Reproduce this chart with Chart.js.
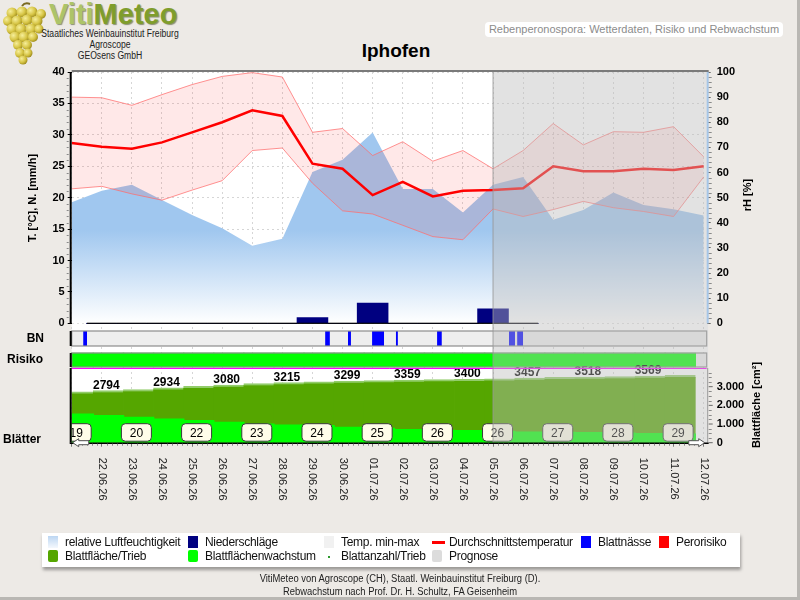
<!DOCTYPE html>
<html lang="de">
<head>
<meta charset="UTF-8">
<title>VitiMeteo - Iphofen</title>
<script src="https://cdn.jsdelivr.net/npm/chart.js"></script>
<style>
  html, body { margin: 0; padding: 0; }
  body { width: 800px; height: 600px; background: #edeae6; position: relative; overflow: hidden;
         font-family: "Liberation Sans", Arial, sans-serif; }
  #page-border { position: absolute; left: 0; top: 0; width: 797px; height: 597px;
                 border-right: 3px solid #b9b7b3; border-bottom: 3px solid #b9b7b3; }
  #chart { position: absolute; left: 0; top: 0; }
  .narrow { white-space: nowrap; transform: scaleX(0.86); transform-origin: center top; }
  .narrow.foot { transform: scaleX(0.94); }
  #logo { position: absolute; left: 49px; top: 0px; font: bold 29px "Liberation Sans", Arial, sans-serif;
          text-shadow: 1px 1px 1px rgba(60, 70, 20, 0.55); line-height: 29px; }
  #logo .viti { color: #adc468; }
  #logo .meteo { color: #7f9d2c; }
  #grapes { position: absolute; left: 0; top: 2px; }
  .inst { position: absolute; font-size: 10px; line-height: 11px; color: #222; text-align: center; width: 200px; left: 10px; }
  #subtitle { position: absolute; left: 485px; top: 22px; width: 298px; height: 15px; background: #fff;
              border-radius: 4px; color: #8c8c8c; font-size: 11px; line-height: 15px; text-align: center;
              white-space: nowrap; overflow: hidden; }
  #title { position: absolute; left: 296px; width: 200px; top: 40px; text-align: center;
           font: bold 19px "Liberation Sans", Arial, sans-serif; color: #000; }
  #legend { position: absolute; left: 42px; top: 533px; width: 698px; height: 34px; background: #fff;
            box-shadow: 1px 3px 3px rgba(0, 0, 0, 0.35); }
  .item { position: absolute; font-size: 12px; color: #111; white-space: nowrap; height: 14px; line-height: 14px;
          letter-spacing: -0.3px; }
  .sw { position: absolute; left: 0; top: 1px; width: 10px; height: 12px; }
  .item span.t { position: absolute; left: 17px; top: 0; }
  #footer { position: absolute; left: 0; width: 800px; top: 572px; text-align: center; font-size: 10px;
            line-height: 13px; color: #222; }
</style>
</head>
<body>
<div id="page-border"></div>

<svg id="grapes" width="48" height="64" viewBox="0 0 48 64">
  <defs>
    <radialGradient id="berry" cx="35%" cy="35%" r="70%">
      <stop offset="0" stop-color="#f6ee9a"/>
      <stop offset="0.6" stop-color="#d6c444"/>
      <stop offset="1" stop-color="#9c8a1c"/>
    </radialGradient>
  </defs>
  <path d="M22 4 Q 25 0 30 2" stroke="#7a6a20" stroke-width="2" fill="none"/>
  <g fill="url(#berry)">
    <circle cx="12" cy="11" r="5.5"/><circle cx="22" cy="10" r="5.5"/><circle cx="32" cy="10" r="5.5"/><circle cx="41" cy="12" r="5"/>
    <circle cx="8" cy="19" r="5"/><circle cx="17" cy="19" r="5.5"/><circle cx="27" cy="18" r="5.5"/><circle cx="37" cy="19" r="5.5"/>
    <circle cx="12" cy="27" r="5.5"/><circle cx="21" cy="27" r="5.5"/><circle cx="31" cy="27" r="5.5"/><circle cx="39" cy="27" r="4.5"/>
    <circle cx="15" cy="35" r="5.5"/><circle cx="24" cy="35" r="5.5"/><circle cx="33" cy="35" r="5"/>
    <circle cx="18" cy="43" r="5"/><circle cx="27" cy="43" r="5"/>
    <circle cx="20" cy="51" r="5"/><circle cx="28" cy="51" r="4.5"/>
    <circle cx="23" cy="58" r="4.5"/>
  </g>
</svg>
<div id="logo"><span class="viti">Viti</span><span class="meteo">Meteo</span></div>
<div class="inst narrow" style="top:28px;">Staatliches Weinbauinstitut Freiburg</div>
<div class="inst narrow" style="top:39px;">Agroscope</div>
<div class="inst narrow" style="top:50px;">GEOsens GmbH</div>
<div id="subtitle">Rebenperonospora: Wetterdaten, Risiko und Rebwachstum</div>
<div id="title">Iphofen</div>

<canvas id="chart" width="800" height="600"></canvas>

<div id="legend"></div>
<div id="footer"><div class="narrow foot">VitiMeteo von Agroscope (CH), Staatl. Weinbauinstitut Freiburg (D).</div><div class="narrow foot">Rebwachstum nach Prof. Dr. H. Schultz, FA Geisenheim</div></div>

<script>
// ---- data (one value per day, index 0 = 21.06.26) ----
const DAYS = ['21.06.26', '22.06.26', '23.06.26', '24.06.26', '25.06.26', '26.06.26', '27.06.26', '28.06.26',
              '29.06.26', '30.06.26', '01.07.26', '02.07.26', '03.07.26', '04.07.26', '05.07.26', '06.07.26',
              '07.07.26', '08.07.26', '09.07.26', '10.07.26', '11.07.26', '12.07.26'];
const FORECAST_FROM = 14;   // 05.07.26 onwards is forecast

const T_MEAN = [28.7, 28.1, 27.8, 28.8, 30.4, 32.0, 33.9, 33.0, 25.4, 24.6, 20.4,
                22.5, 20.2, 21.1, 21.2, 21.5, 25.0, 24.2, 24.2, 24.6, 24.4, 25.0];
const T_MAX = [36.0, 35.9, 34.7, 36.4, 38.0, 39.3, 39.9, 39.2, 30.4, 31.0, 26.7,
               28.9, 25.8, 27.5, 24.6, 27.5, 31.8, 28.4, 30.5, 30.4, 31.3, 26.5];
const T_MIN = [21.4, 21.8, 20.6, 19.6, 21.2, 22.7, 27.5, 27.9, 22.3, 17.9, 17.4,
               15.6, 13.8, 13.3, 18.2, 17.0, 18.1, 19.4, 18.4, 17.8, 17.0, 23.3];
const RH = [48.2, 52.7, 55.1, 49.1, 43.1, 37.8, 30.9, 33.6, 60.2, 65.1, 75.9,
            53.4, 53.4, 44.1, 55.1, 58.2, 41.2, 45.1, 52.0, 47.1, 45.4, 42.9];
const PRECIP = [null, 0, 0, 0, 0, 0, 0, 0, 0.9, 0, 3.2, 0, 0, 0, 2.3, 0,
                null, null, null, null, null, null];

// leaf wetness periods (start / end, in days)
const BN_START = [0.38, 8.42, 9.18, 9.98, 10.77, 12.14, 14.53, 14.80];
const BN_END   = [0.51, 8.58, 9.28, 10.38, 10.84, 12.30, 14.73, 15.00];

// downy mildew risk class per day (0 = low)
const RISK_LEVEL = [0, 0, 0, 0, 0, 0, 0, 0, 0, 0, 0, 0, 0, 0, 0, 0, 0, 0, 0, 0, 0];
const RISK_COLORS = ['#00ff00', '#ffff00', '#ff0000'];

// leaf area per shoot [cm2], daily leaf area growth, leaf count per shoot
const LEAF_AREA = [2724, 2794, 2847, 2934, 3017, 3080, 3168, 3215, 3257, 3299, 3325,
                   3359, 3378, 3400, 3417, 3457, 3500, 3518, 3547, 3569, 3605];
const LEAF_GROWTH = [116, 110, 103, 96, 90, 83, 76, 72, 70, 63, 59,
                     54, 51, 50, 47, 44, 43, 42, 40, 38, 36];
const LEAF_COUNT = [19, null, 20, null, 22, null, 23, null, 24, null, 25,
                    null, 26, null, 26, null, 27, null, 28, null, 29];

const T_TICKS = [0, 5, 10, 15, 20, 25, 30, 35, 40];
const RH_TICKS = [0, 10, 20, 30, 40, 50, 60, 70, 80, 90, 100];
const LEAF_TICKS = [0, 1000, 2000, 3000];

// ---- layout ----
const SANS = '"Liberation Sans", Arial, sans-serif';
const AREA = { left: 71.7, right: 706.7, top: 72, bottom: 442.7 };
const PANEL = { main: [72, 323.3], bn: [331, 346], risk: [353, 367], leaf: [368, 442.7] };
const X_MAX = 21.1;
const DAY_PX = (AREA.right - AREA.left) / X_MAX;
const BAR_SHIFT = 0.22;   // model day bars sit slightly right of the date tick
const LABEL_SHIFT = 0.15;

// value range of a hidden axis so that lo..hi fills the given panel
function fitRange(lo, hi, panel) {
  const k = (hi - lo) / (panel[1] - panel[0]);
  return { min: lo - (AREA.bottom - panel[1]) * k, max: hi + (panel[0] - AREA.top) * k };
}

Chart.defaults.font.family = SANS;

const xy = (arr, shift) => arr.map((v, i) => ({ x: i + (shift || 0), y: v })).filter(p => p.y !== null);

const bnPoints = [];
BN_START.forEach((s, k) => {
  bnPoints.push({ x: s, y: 1 }, { x: BN_END[k], y: 1 }, { x: BN_END[k], y: null });
});

function rhGradient(c) {
  const chart = c.chart;
  if (!chart.chartArea) return 'rgba(160,200,240,0.8)';
  const s = chart.scales.yRH;
  const g = chart.ctx.createLinearGradient(0, s.getPixelForValue(37), 0, s.getPixelForValue(0));
  g.addColorStop(0, 'rgba(160,199,239,1)');
  g.addColorStop(1, 'rgba(255,255,255,1)');
  return g;
}

function drawArrow(ctx, x0, y, len, dir) {
  const h = 4, head = 6;
  const tip = dir < 0 ? x0 : x0 + len;
  const tail = dir < 0 ? x0 + len : x0;
  const base = tip - dir * head;
  ctx.beginPath();
  ctx.moveTo(tip, y);
  ctx.lineTo(base, y - h);
  ctx.lineTo(base, y - h / 2);
  ctx.lineTo(tail, y - h / 2);
  ctx.lineTo(tail, y + h / 2);
  ctx.lineTo(base, y + h / 2);
  ctx.lineTo(base, y + h);
  ctx.closePath();
  ctx.fillStyle = '#fff';
  ctx.fill();
  ctx.strokeStyle = '#555';
  ctx.lineWidth = 1;
  ctx.stroke();
}

const decor = {
  id: 'decor',
  beforeDraw(chart) {
    const ctx = chart.ctx, a = chart.chartArea;
    ctx.save();
    ctx.fillStyle = '#fff';
    ctx.fillRect(a.left, a.top, a.right - a.left + 1.5, a.bottom - a.top);
    ctx.restore();
  },
  beforeDatasetsDraw(chart) {
    const ctx = chart.ctx, a = chart.chartArea;
    ctx.save();
    ctx.fillStyle = '#eeeeee';
    ctx.fillRect(a.left, PANEL.bn[0], a.right - a.left, PANEL.bn[1] - PANEL.bn[0]);
    ctx.fillRect(a.left, PANEL.risk[0], a.right - a.left, PANEL.risk[1] - PANEL.risk[0]);
    ctx.restore();
  },
  afterDraw(chart) {
    const ctx = chart.ctx, a = chart.chartArea;
    const x = chart.scales.x, yT = chart.scales.yT, yRH = chart.scales.yRH, yLeaf = chart.scales.yLeaf;
    ctx.save();

    // precipitation base line over the days that have a value
    ctx.strokeStyle = '#000';
    ctx.lineWidth = 1.2;
    PRECIP.forEach((v, i) => {
      if (v === null) return;
      ctx.beginPath();
      ctx.moveTo(x.getPixelForValue(i - 0.5), yT.getPixelForValue(0));
      ctx.lineTo(x.getPixelForValue(i + 0.5), yT.getPixelForValue(0));
      ctx.stroke();
    });

    // leaf area values every second day
    ctx.fillStyle = '#000';
    ctx.font = 'bold 12px ' + SANS;
    ctx.textAlign = 'center';
    ctx.textBaseline = 'alphabetic';
    LEAF_AREA.forEach((v, i) => {
      if (i % 2 === 1) ctx.fillText(String(v), x.getPixelForValue(i + LABEL_SHIFT), yLeaf.getPixelForValue(v) - 2);
    });

    // leaf count boxes
    ctx.save();
    ctx.beginPath();
    ctx.rect(a.left, a.top, a.right - a.left, a.bottom - a.top);
    ctx.clip();
    ctx.font = '12px ' + SANS;
    ctx.textBaseline = 'middle';
    LEAF_COUNT.forEach((n, i) => {
      if (n === null) return;
      const cx = x.getPixelForValue(i + LABEL_SHIFT);
      const top = PANEL.leaf[1] - 19;
      ctx.beginPath();
      ctx.roundRect(cx - 15, top, 30, 17.5, 4);
      ctx.fillStyle = '#fffde9';
      ctx.fill();
      ctx.strokeStyle = '#3a3a3a';
      ctx.lineWidth = 1;
      ctx.stroke();
      ctx.fillStyle = '#000';
      ctx.fillText(String(n), cx, top + 9.5);
    });
    ctx.restore();

    // panel frames
    ctx.strokeStyle = '#8c8c8c';
    ctx.lineWidth = 1.2;
    ctx.strokeRect(a.left, PANEL.bn[0], a.right - a.left, PANEL.bn[1] - PANEL.bn[0]);
    ctx.strokeRect(a.left, PANEL.risk[0], a.right - a.left, PANEL.risk[1] - PANEL.risk[0]);

    // magenta line on top of the leaf panel
    ctx.strokeStyle = '#ff00ff';
    ctx.lineWidth = 1;
    ctx.beginPath();
    ctx.moveTo(a.left, PANEL.leaf[0] + 0.5);
    ctx.lineTo(a.right, PANEL.leaf[0] + 0.5);
    ctx.stroke();

    // forecast shading
    const fx = x.getPixelForValue(FORECAST_FROM);
    ctx.fillStyle = 'rgba(187,187,187,0.43)';
    ctx.fillRect(fx, a.top, a.right + 1.5 - fx, a.bottom - a.top);
    ctx.strokeStyle = 'rgba(150,150,150,0.7)';
    ctx.lineWidth = 1.2;
    ctx.beginPath();
    ctx.moveTo(fx, a.top);
    ctx.lineTo(fx, a.bottom);
    ctx.stroke();

    // top frame line
    ctx.strokeStyle = '#7a7a7a';
    ctx.lineWidth = 2;
    ctx.beginPath();
    ctx.moveTo(a.left, a.top - 1);
    ctx.lineTo(a.right + 2, a.top - 1);
    ctx.stroke();

    // left axis line per panel
    ctx.strokeStyle = '#000';
    ctx.lineWidth = 2;
    [PANEL.main, PANEL.bn, PANEL.risk, PANEL.leaf].forEach(p => {
      ctx.beginPath();
      ctx.moveTo(a.left - 1, p[0]);
      ctx.lineTo(a.left - 1, p[1]);
      ctx.stroke();
    });

    // right axis lines
    ctx.strokeStyle = '#a6c6e8';
    ctx.beginPath();
    ctx.moveTo(a.right + 1, PANEL.main[0]);
    ctx.lineTo(a.right + 1, PANEL.main[1]);
    ctx.stroke();
    ctx.strokeStyle = '#9a9a9a';
    ctx.lineWidth = 1;
    ctx.beginPath();
    ctx.moveTo(a.right + 1, PANEL.leaf[0]);
    ctx.lineTo(a.right + 1, PANEL.leaf[1]);
    ctx.stroke();

    // bottom axis line
    ctx.strokeStyle = '#000';
    ctx.lineWidth = 1.5;
    ctx.beginPath();
    ctx.moveTo(a.left - 2, a.bottom + 0.5);
    ctx.lineTo(a.right + 2, a.bottom + 0.5);
    ctx.stroke();

    // minor ticks
    ctx.strokeStyle = '#8a8a8a';
    ctx.lineWidth = 1;
    for (let t = 0; t <= 40; t++) {
      if (t % 5 === 0) continue;
      const y = Math.round(yT.getPixelForValue(t)) + 0.5;
      ctx.beginPath(); ctx.moveTo(a.left - 5, y); ctx.lineTo(a.left - 3, y); ctx.stroke();
    }
    for (let r = 0; r <= 100; r += 2) {
      if (r % 10 === 0) continue;
      const y = Math.round(yRH.getPixelForValue(r)) + 0.5;
      ctx.beginPath(); ctx.moveTo(a.right + 2, y); ctx.lineTo(a.right + 5, y); ctx.stroke();
    }
    for (let v = 250; v <= 3750; v += 250) {
      if (v % 1000 === 0) continue;
      const y = Math.round(yLeaf.getPixelForValue(v)) + 0.5;
      ctx.beginPath(); ctx.moveTo(a.right + 2, y); ctx.lineTo(a.right + 5, y); ctx.stroke();
    }
    for (let d = 0; d <= 21 * 6; d++) {
      if (d % 6 === 0) continue;
      const px = Math.round(x.getPixelForValue(d / 6)) + 0.5;
      ctx.beginPath(); ctx.moveTo(px, a.bottom + 1); ctx.lineTo(px, a.bottom + 3); ctx.stroke();
    }

    // leaf area axis
    ctx.strokeStyle = '#666';
    ctx.fillStyle = '#000';
    ctx.font = 'bold 11px ' + SANS;
    ctx.textAlign = 'left';
    ctx.textBaseline = 'middle';
    LEAF_TICKS.forEach(v => {
      const y = yLeaf.getPixelForValue(v);
      ctx.beginPath(); ctx.moveTo(a.right + 2, y); ctx.lineTo(a.right + 6, y); ctx.stroke();
      ctx.fillText(v.toLocaleString('de-DE'), a.right + 10, y);
    });

    // date labels (read top to bottom)
    ctx.font = '11px ' + SANS;
    ctx.fillStyle = '#222';
    DAYS.forEach((d, i) => {
      if (i === 0) return;
      ctx.save();
      ctx.translate(x.getPixelForValue(i), a.bottom + 15);
      ctx.rotate(Math.PI / 2);
      ctx.fillText(d, 0, 0);
      ctx.restore();
    });

    // axis titles
    ctx.font = 'bold 11px ' + SANS;
    ctx.textAlign = 'center';
    ctx.fillStyle = '#000';
    const vText = (txt, cx, cy) => {
      ctx.save(); ctx.translate(cx, cy); ctx.rotate(-Math.PI / 2); ctx.fillText(txt, 0, 0); ctx.restore();
    };
    vText('T. [°C], N. [mm/h]', 33, 198);
    vText('rH [%]', 748, 195);
    vText('Blattfläche [cm²]', 757, 405);

    // panel labels
    ctx.font = 'bold 12px ' + SANS;
    ctx.textAlign = 'right';
    ctx.fillText('BN', 44, (PANEL.bn[0] + PANEL.bn[1]) / 2);
    ctx.fillText('Risiko', 43, (PANEL.risk[0] + PANEL.risk[1]) / 2);
    ctx.textAlign = 'left';
    ctx.fillText('Blätter', 3, 440);

    // scroll arrows
    drawArrow(ctx, a.left + 1, a.bottom, 16, -1);
    drawArrow(ctx, a.right - 18, a.bottom, 16, 1);

    ctx.restore();
  }
};

const barCommon = { type: 'bar', grouped: false, barThickness: DAY_PX + 0.8, borderWidth: 0 };

new Chart(document.getElementById('chart'), {
  type: 'line',
  data: {
    datasets: [
      { label: 'relative Luftfeuchtigkeit', data: xy(RH), yAxisID: 'yRH', fill: 'origin',
        backgroundColor: rhGradient, borderWidth: 0, pointRadius: 0, order: 10 },
      { label: 'Temp. max', data: xy(T_MAX), yAxisID: 'yT', fill: '+1',
        backgroundColor: 'rgba(255,50,50,0.11)', borderColor: 'rgba(255,110,110,0.75)', borderWidth: 1,
        pointRadius: 0, order: 9 },
      { label: 'Temp. min', data: xy(T_MIN), yAxisID: 'yT', fill: false,
        borderColor: 'rgba(255,110,110,0.75)', borderWidth: 1, pointRadius: 0, order: 8 },
      { label: 'Durchschnittstemperatur', data: xy(T_MEAN), yAxisID: 'yT', fill: false,
        borderColor: '#ff0000', borderWidth: 2.5, pointRadius: 0, order: 5 },
      { ...barCommon, label: 'Niederschläge', data: xy(PRECIP), yAxisID: 'yT',
        backgroundColor: '#000080', order: 4 },
      { label: 'Blattnässe', data: bnPoints, yAxisID: 'yBN', fill: 'origin', spanGaps: false,
        backgroundColor: '#0000ff', borderWidth: 0, pointRadius: 0, order: 3 },
      { ...barCommon, label: 'Perorisiko', data: RISK_LEVEL.map((lvl, i) => ({ x: i + BAR_SHIFT, y: 1 })),
        yAxisID: 'yRisk', backgroundColor: c => RISK_COLORS[RISK_LEVEL[c.dataIndex]], order: 3 },
      { ...barCommon, label: 'Blattfläche/Trieb', data: xy(LEAF_AREA, BAR_SHIFT), yAxisID: 'yLeaf',
        backgroundColor: '#55a600', borderColor: '#92cc6a', borderWidth: { top: 2, right: 0, bottom: 0, left: 0 },
        order: 2 },
      { ...barCommon, label: 'Blattflächenwachstum', data: xy(LEAF_GROWTH, BAR_SHIFT), yAxisID: 'yGrowth',
        backgroundColor: '#00ff00', order: 1 }
    ]
  },
  options: {
    responsive: false,
    animation: false,
    events: [],
    layout: { padding: { top: AREA.top, bottom: 600 - AREA.bottom - 4, left: 0, right: 0 } },
    elements: { line: { tension: 0 } },
    plugins: { legend: { display: false }, tooltip: { enabled: false } },
    scales: {
      x: {
        type: 'linear', min: 0, max: X_MAX, offset: false,
        afterFit: s => { s.height = 4; },
        afterBuildTicks: s => { s.ticks = DAYS.map((d, i) => ({ value: i })); },
        ticks: { display: false },
        grid: { offset: false, color: '#d6d6d6', tickLength: 4, tickColor: '#777', tickBorderDash: [] },
        border: { display: false, dash: [2, 3] }
      },
      yT: {
        position: 'left', ...fitRange(0, 40, PANEL.main),
        afterFit: s => { s.width = AREA.left; },
        afterBuildTicks: s => { s.ticks = T_TICKS.map(v => ({ value: v })); },
        ticks: { color: '#000', padding: 3, font: { size: 11, weight: 'bold' } },
        grid: { color: '#d6d6d6', tickColor: '#000', tickLength: 4, tickBorderDash: [] },
        border: { display: false, dash: [2, 3] }
      },
      yRH: {
        position: 'right', ...fitRange(0, 100, PANEL.main),
        afterFit: s => { s.width = 800 - AREA.right; },
        afterBuildTicks: s => { s.ticks = RH_TICKS.map(v => ({ value: v })); },
        ticks: { color: '#000', padding: 6, font: { size: 11, weight: 'bold' } },
        grid: { drawOnChartArea: false, tickColor: '#666', tickLength: 4 },
        border: { display: false }
      },
      yBN: { display: false, ...fitRange(0, 1, PANEL.bn) },
      yRisk: { display: false, ...fitRange(0, 1, PANEL.risk) },
      yLeaf: { display: false, ...fitRange(0, 4000, PANEL.leaf) },
      yGrowth: { display: false, ...fitRange(0, 300, PANEL.leaf) }
    }
  },
  plugins: [decor]
});

// ---- legend ----
const LEGEND_ITEMS = [
  ['relative Luftfeuchtigkeit', 'linear-gradient(#bcd6f2, #f4f8fd)'],
  ['Niederschläge', '#000080'],
  ['Temp. min-max', '#f1f1f1'],
  ['Durchschnittstemperatur', 'line'],
  ['Blattnässe', '#0000ff'],
  ['Perorisiko', '#ff0000'],
  ['Blattfläche/Trieb', '#55a600'],
  ['Blattflächenwachstum', '#00ff00'],
  ['Blattanzahl/Trieb', 'dot'],
  ['Prognose', '#dcdcdc']
];
const LEGEND_COLS = [6, 146, 282, 390, 539, 617];
const legend = document.getElementById('legend');
LEGEND_ITEMS.forEach(([label, sw], k) => {
  const row = k < 6 ? 0 : 1;
  const col = k < 6 ? k : k - 6;
  const item = document.createElement('div');
  item.className = 'item';
  item.style.left = LEGEND_COLS[col] + 'px';
  item.style.top = (row === 0 ? 2 : 16) + 'px';
  const s = document.createElement('div');
  s.className = 'sw';
  if (sw === 'line') {
    s.style.cssText = 'top:6px;width:13px;height:3px;background:#ff0000;';
  } else if (sw === 'dot') {
    s.style.cssText = 'left:4px;top:7px;width:2px;height:2px;background:#2f9a2f;';
  } else {
    s.style.background = sw;
    if (k >= 6) s.style.borderRadius = '2px';
  }
  const t = document.createElement('span');
  t.className = 't';
  t.textContent = label;
  item.appendChild(s);
  item.appendChild(t);
  legend.appendChild(item);
});
</script>
</body>
</html>
